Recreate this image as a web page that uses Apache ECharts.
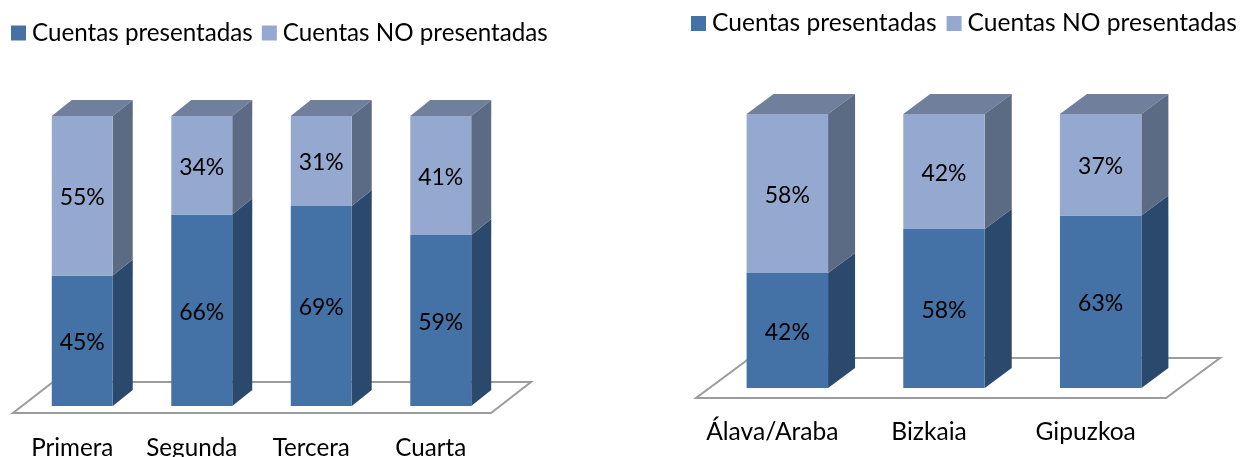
<!DOCTYPE html>
<html>
<head>
<meta charset="utf-8">
<style>
  html, body { margin: 0; padding: 0; background: #fff; }
  #chart { width: 1240px; height: 457px; }
</style>
<script src="https://cdn.jsdelivr.net/npm/echarts@6/dist/echarts.min.js"></script>
</head>
<body>
<div id="chart"></div>
<script>
const seriesNames = ['Cuentas presentadas', 'Cuentas NO presentadas'];

const leftCategories = ['Primera', 'Segunda', 'Tercera', 'Cuarta'];
const leftPresentadas = [45, 66, 69, 59];
const leftNoPresentadas = [55, 34, 31, 41];

const rightCategories = ['Álava/Araba', 'Bizkaia', 'Gipuzkoa'];
const rightPresentadas = [42, 58, 63];
const rightNoPresentadas = [58, 42, 37];

const FONT = 'Lato';
const darkColors = { front: '#4472a6', side: '#2b486d', top: '#2b486d' };
const lightColors = { front: '#95a9d0', side: '#5c6b84', top: '#6f7f9c' };

// barra 3D: cara frontal, lateral y (solo en la de arriba) tapa
function bar3d(colors, bases, barRatio, dx, dy, shift, withTop) {
	return function(params, api) {
		const i = api.value(0);
		const v = api.value(1);
		const base = bases ? bases[i] : 0;
		const w = api.size([1, 0])[0] * barRatio;
		const low = api.coord([i, base]);
		const high = api.coord([i, base + v]);
		const x0 = low[0] + shift - w / 2;
		const x1 = x0 + w;
		const children = [
			{
				type: 'polygon',
				shape: { points: [[x1, low[1]], [x1 + dx, low[1] + dy], [x1 + dx, high[1] + dy], [x1, high[1]]] },
				style: { fill: colors.side }
			},
			{
				type: 'rect',
				shape: { x: x0, y: high[1], width: w, height: low[1] - high[1] },
				style: { fill: colors.front }
			},
			{
				type: 'text',
				style: {
					x: x0 + w / 2,
					y: (low[1] + high[1]) / 2 + 2,
					text: v + '%',
					fill: '#000',
					font: '23px ' + FONT,
					align: 'center',
					verticalAlign: 'middle'
				}
			}
		];
		if (withTop) {
			children.unshift({
				type: 'polygon',
				shape: { points: [[x0, high[1]], [x0 + dx, high[1] + dy], [x1 + dx, high[1] + dy], [x1, high[1]]] },
				style: { fill: colors.top }
			});
		}
		return { type: 'group', children: children };
	};
}

// suelo del grafico, relativo a la rejilla
function floor(left, right, frontOffset, dx, dy) {
	return function(params) {
		const cs = params.coordSys;
		const y = cs.y + cs.height + frontOffset;
		return {
			type: 'polygon',
			shape: { points: [[left, y], [right, y], [right + dx, y + dy], [left + dx, y + dy]] },
			style: { fill: '#fff', stroke: '#9c9c9c', lineWidth: 2 }
		};
	};
}

function floorSeries(index, renderItem) {
	return {
		name: 'suelo',
		type: 'custom',
		xAxisIndex: index,
		yAxisIndex: index,
		silent: true,
		z: 1,
		data: [[0, 0]],
		renderItem: renderItem
	};
}

function barSeries(name, index, values, renderItem) {
	return {
		name: name,
		type: 'custom',
		xAxisIndex: index,
		yAxisIndex: index,
		z: 2,
		itemStyle: { color: name === seriesNames[0] ? darkColors.front : lightColors.front },
		encode: { x: 0, y: 1 },
		data: values.map((v, i) => [i, v]),
		renderItem: renderItem
	};
}

function legend(left, top, fontSize, gap) {
	return {
		data: seriesNames,
		left: left,
		top: top,
		padding: 0,
		icon: 'rect',
		itemWidth: 15,
		itemHeight: 15,
		itemGap: gap,
		selectedMode: false,
		textStyle: { color: '#000', fontFamily: FONT, fontSize: fontSize, padding: [0, 0, 0, 1] }
	};
}

function xAxis(index, data, margin, fontSize) {
	return {
		type: 'category',
		gridIndex: index,
		data: data,
		axisLine: { show: false },
		axisTick: { show: false },
		axisLabel: { color: '#000', fontFamily: FONT, fontSize: fontSize, margin: margin, interval: 0 }
	};
}

function yAxis(index) {
	return { type: 'value', gridIndex: index, min: 0, max: 100, show: false };
}

const charts = echarts.init(document.getElementById('chart'));
const option = {
	animation: false,
	backgroundColor: '#fff',
	legend: [legend(11, 21, 24.2, 9), legend(691, 11, 24.6, 10)],
	grid: [
		{ left: 12.5, top: 116, width: 478, height: 290, outerBoundsMode: 'none' },
		{ left: 694, top: 114, width: 470, height: 274, outerBoundsMode: 'none' }
	],
	xAxis: [xAxis(0, leftCategories, 30, 24.2), xAxis(1, rightCategories, 32, 24.6)],
	yAxis: [yAxis(0), yAxis(1)],
	series: [
		floorSeries(0, floor(13, 491, 7, 40, -31)),
		barSeries(seriesNames[0], 0, leftPresentadas, bar3d(darkColors, null, 0.51, 20, -16, 10, false)),
		barSeries(seriesNames[1], 0, leftNoPresentadas, bar3d(lightColors, leftPresentadas, 0.51, 20, -16, 10, true)),
		floorSeries(1, floor(696, 1166, 10, 54, -40)),
		barSeries(seriesNames[0], 1, rightPresentadas, bar3d(darkColors, null, 0.52, 27, -20, 15, false)),
		barSeries(seriesNames[1], 1, rightNoPresentadas, bar3d(lightColors, rightPresentadas, 0.52, 27, -20, 15, true))
	]
};
charts.setOption(option);
</script>
</body>
</html>
